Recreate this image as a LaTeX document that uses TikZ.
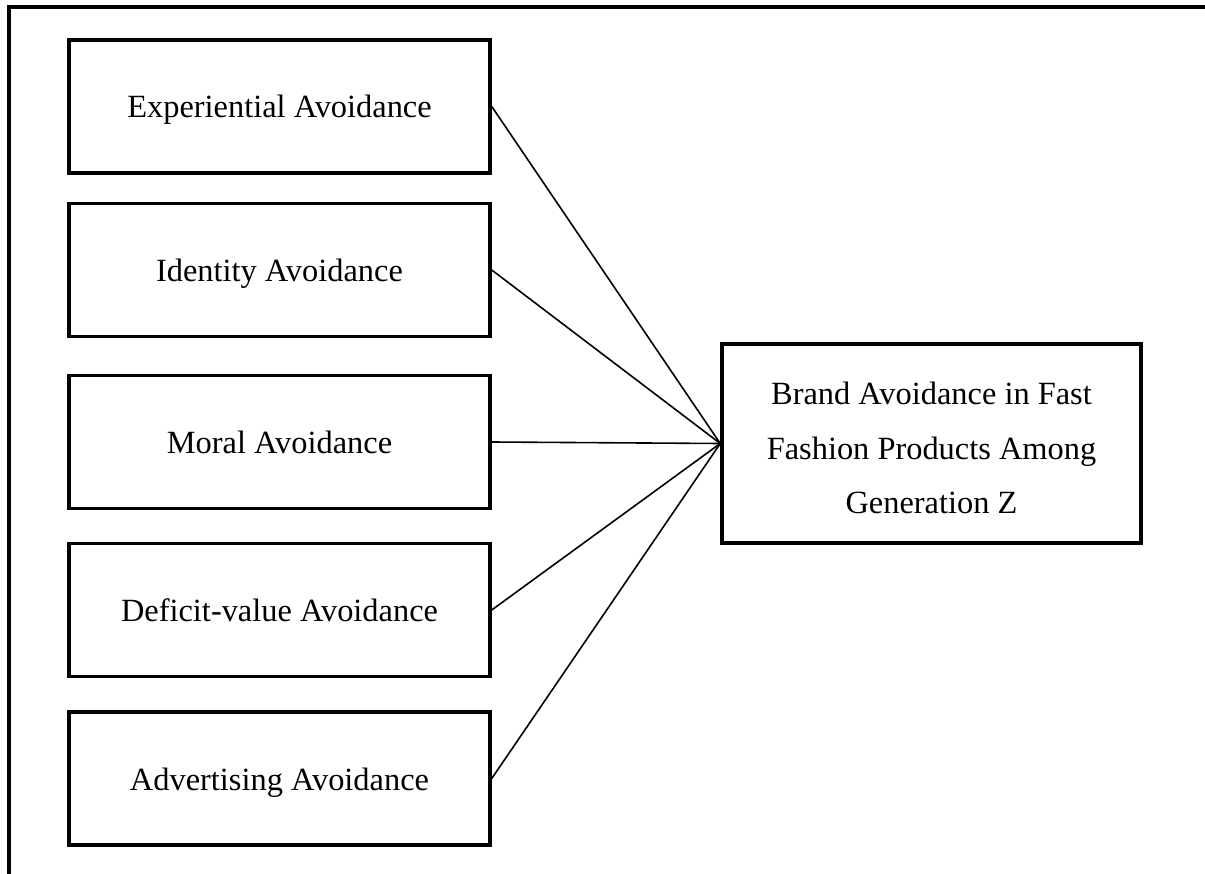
\documentclass[tikz,border=0pt]{standalone}
\usepackage{fontspec}
\setmainfont{Liberation Serif}
\begin{document}
\begin{tikzpicture}[x=1pt,y=-1pt,
  txt/.style={font=\fontsize{32.4}{54.5}\selectfont},
  box/.style={draw,line width=3.5pt,rectangle,inner sep=0pt,align=center,txt},
  leftbox/.style={box,minimum width=421pt,minimum height=133pt,
    text height=23pt,text depth=0pt},
  link/.style={line width=1.6pt}]
\useasboundingbox (0,0) rectangle (1205,874);
\draw[line width=4pt] (9,874) -- (9,7.5) -- (1205,7.5);
\node[leftbox] (b1) at (279.5,106.5) {Experiential Avoidance};
\node[leftbox] (b2) at (279.5,270) {Identity Avoidance};
\node[leftbox] (b3) at (279.5,442) {Moral Avoidance};
\node[leftbox] (b4) at (279.5,610) {Deficit-value Avoidance};
\node[leftbox] (b5) at (279.5,778.5) {Advertising Avoidance};
\node[box,minimum width=419pt,minimum height=199pt] (r) at (931.5,443.5) {};
\node[txt,align=center,inner sep=0pt] (rt) at ([yshift=-4.5pt]r.center)
  {Brand Avoidance in Fast\\Fashion Products Among\\Generation Z};
\foreach \i in {1,...,5} \draw[link] (b\i.east) -- (r.west);
\end{tikzpicture}
\end{document}
